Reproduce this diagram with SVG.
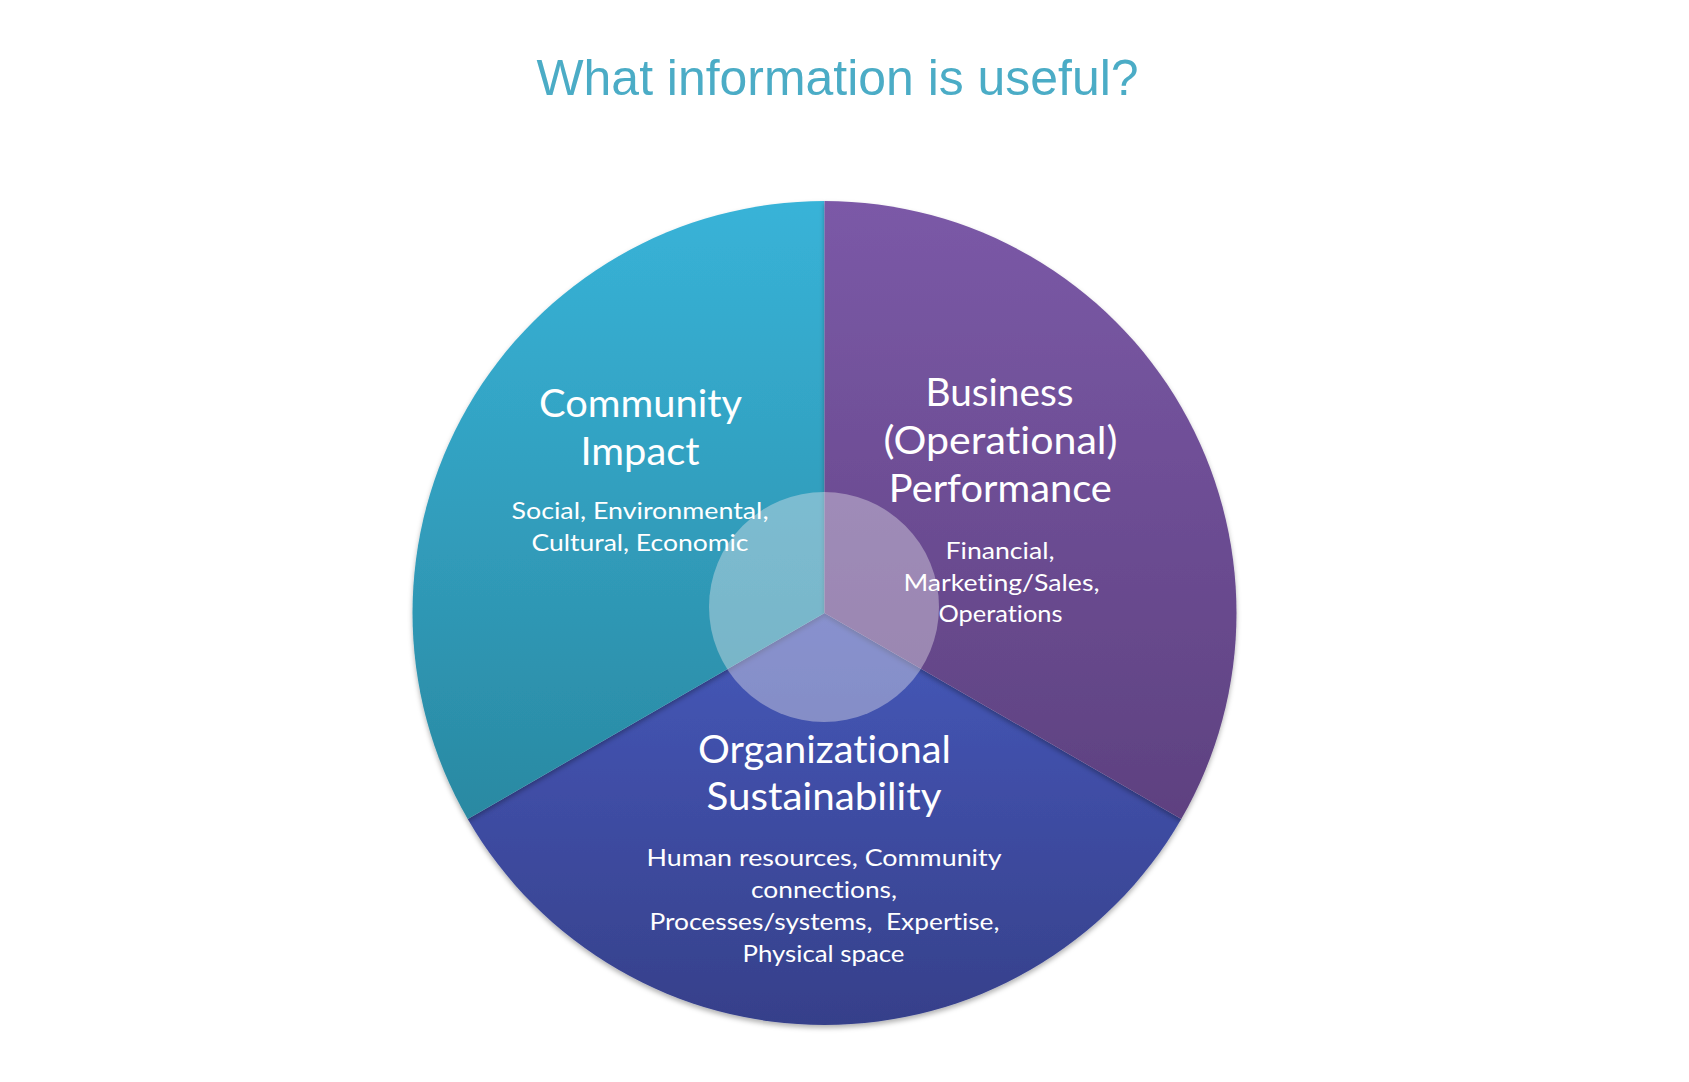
<svg xmlns="http://www.w3.org/2000/svg" width="1689" height="1082" viewBox="0 0 1689 1082">
  <style>
    .title { font-family: "Liberation Sans", Arial, sans-serif; font-size: 50px; fill: #4BACC6; text-anchor: middle; }
    .head { font-family: Lato, "Open Sans", sans-serif; font-size: 38.5px; fill: #FFFFFF; text-anchor: middle; font-variant-ligatures: none; font-feature-settings: "liga" 0, "clig" 0; }
    .sub { font-family: Lato, "Open Sans", sans-serif; font-size: 23.5px; fill: #FFFFFF; text-anchor: middle; font-variant-ligatures: none; font-feature-settings: "liga" 0, "clig" 0; }
    .slice { filter: url(#shadow); }
  </style>
  <defs>
    <linearGradient id="gLeft" gradientUnits="userSpaceOnUse" x1="0" y1="201" x2="0" y2="819">
      <stop offset="0" stop-color="#38B3D8"/>
      <stop offset="1" stop-color="#2A89A2"/>
    </linearGradient>
    <linearGradient id="gRight" gradientUnits="userSpaceOnUse" x1="0" y1="201" x2="0" y2="819">
      <stop offset="0" stop-color="#7B59A7"/>
      <stop offset="1" stop-color="#5E4180"/>
    </linearGradient>
    <linearGradient id="gBottom" gradientUnits="userSpaceOnUse" x1="0" y1="613" x2="0" y2="1025">
      <stop offset="0" stop-color="#4658BA"/>
      <stop offset="1" stop-color="#36408A"/>
    </linearGradient>
    <filter id="shadow" x="-10%" y="-10%" width="120%" height="125%">
      <feDropShadow dx="0" dy="3" stdDeviation="2.5" flood-color="#000000" flood-opacity="0.3"/>
    </filter>
  </defs>

  <rect width="1689" height="1082" fill="#FFFFFF"/>

  <text class="title" x="837.5" y="95" textLength="602" lengthAdjust="spacingAndGlyphs">What information is useful?</text>

  <g id="connectors"></g>

  <g id="node-organizational">
    <path class="slice" d="M824.5,613 L467.7,819 A412,412 0 0 0 1181.3,819 Z" fill="url(#gBottom)"/>
  </g>
  <g id="node-community">
    <path class="slice" d="M824.5,613 L824.5,201 A412,412 0 0 0 467.7,819 Z" fill="url(#gLeft)"/>
  </g>
  <g id="node-business">
    <path class="slice" d="M824.5,613 L824.5,201 A412,412 0 0 1 1181.3,819 Z" fill="url(#gRight)"/>
  </g>

  <g id="node-center">
    <circle cx="824" cy="607" r="115" fill="#EAE8EE" fill-opacity="0.4"/>
  </g>

  <g id="label-community">
    <text class="head" x="640.5" y="417" textLength="203" lengthAdjust="spacingAndGlyphs">Community</text>
    <text class="head" x="640" y="464.5" textLength="119" lengthAdjust="spacingAndGlyphs">Impact</text>
    <text class="sub" x="640" y="519" textLength="257" lengthAdjust="spacingAndGlyphs">Social, Environmental,</text>
    <text class="sub" x="640" y="551" textLength="217" lengthAdjust="spacingAndGlyphs">Cultural, Economic</text>
  </g>

  <g id="label-business">
    <text class="head" x="999.5" y="406" textLength="148" lengthAdjust="spacingAndGlyphs">Business</text>
    <text class="head" x="1000.5" y="454" textLength="234" lengthAdjust="spacingAndGlyphs">(Operational)</text>
    <text class="head" x="1000.3" y="502" textLength="223" lengthAdjust="spacingAndGlyphs">Performance</text>
    <text class="sub" x="1000" y="559" textLength="109" lengthAdjust="spacingAndGlyphs">Financial,</text>
    <text class="sub" x="1001.5" y="590.5" textLength="196" lengthAdjust="spacingAndGlyphs">Marketing/Sales,</text>
    <text class="sub" x="1000.5" y="622" textLength="124" lengthAdjust="spacingAndGlyphs">Operations</text>
  </g>

  <g id="label-organizational">
    <text class="head" x="824.5" y="763" textLength="253" lengthAdjust="spacingAndGlyphs">Organizational</text>
    <text class="head" x="824" y="810" textLength="235" lengthAdjust="spacingAndGlyphs">Sustainability</text>
    <text class="sub" x="824" y="866" textLength="355" lengthAdjust="spacingAndGlyphs">Human resources, Community</text>
    <text class="sub" x="824" y="898" textLength="146" lengthAdjust="spacingAndGlyphs">connections,</text>
    <text class="sub" x="824.5" y="930" textLength="350" lengthAdjust="spacingAndGlyphs" xml:space="preserve">Processes/systems,  Expertise,</text>
    <text class="sub" x="823.5" y="962" textLength="162" lengthAdjust="spacingAndGlyphs">Physical space</text>
  </g>
</svg>
